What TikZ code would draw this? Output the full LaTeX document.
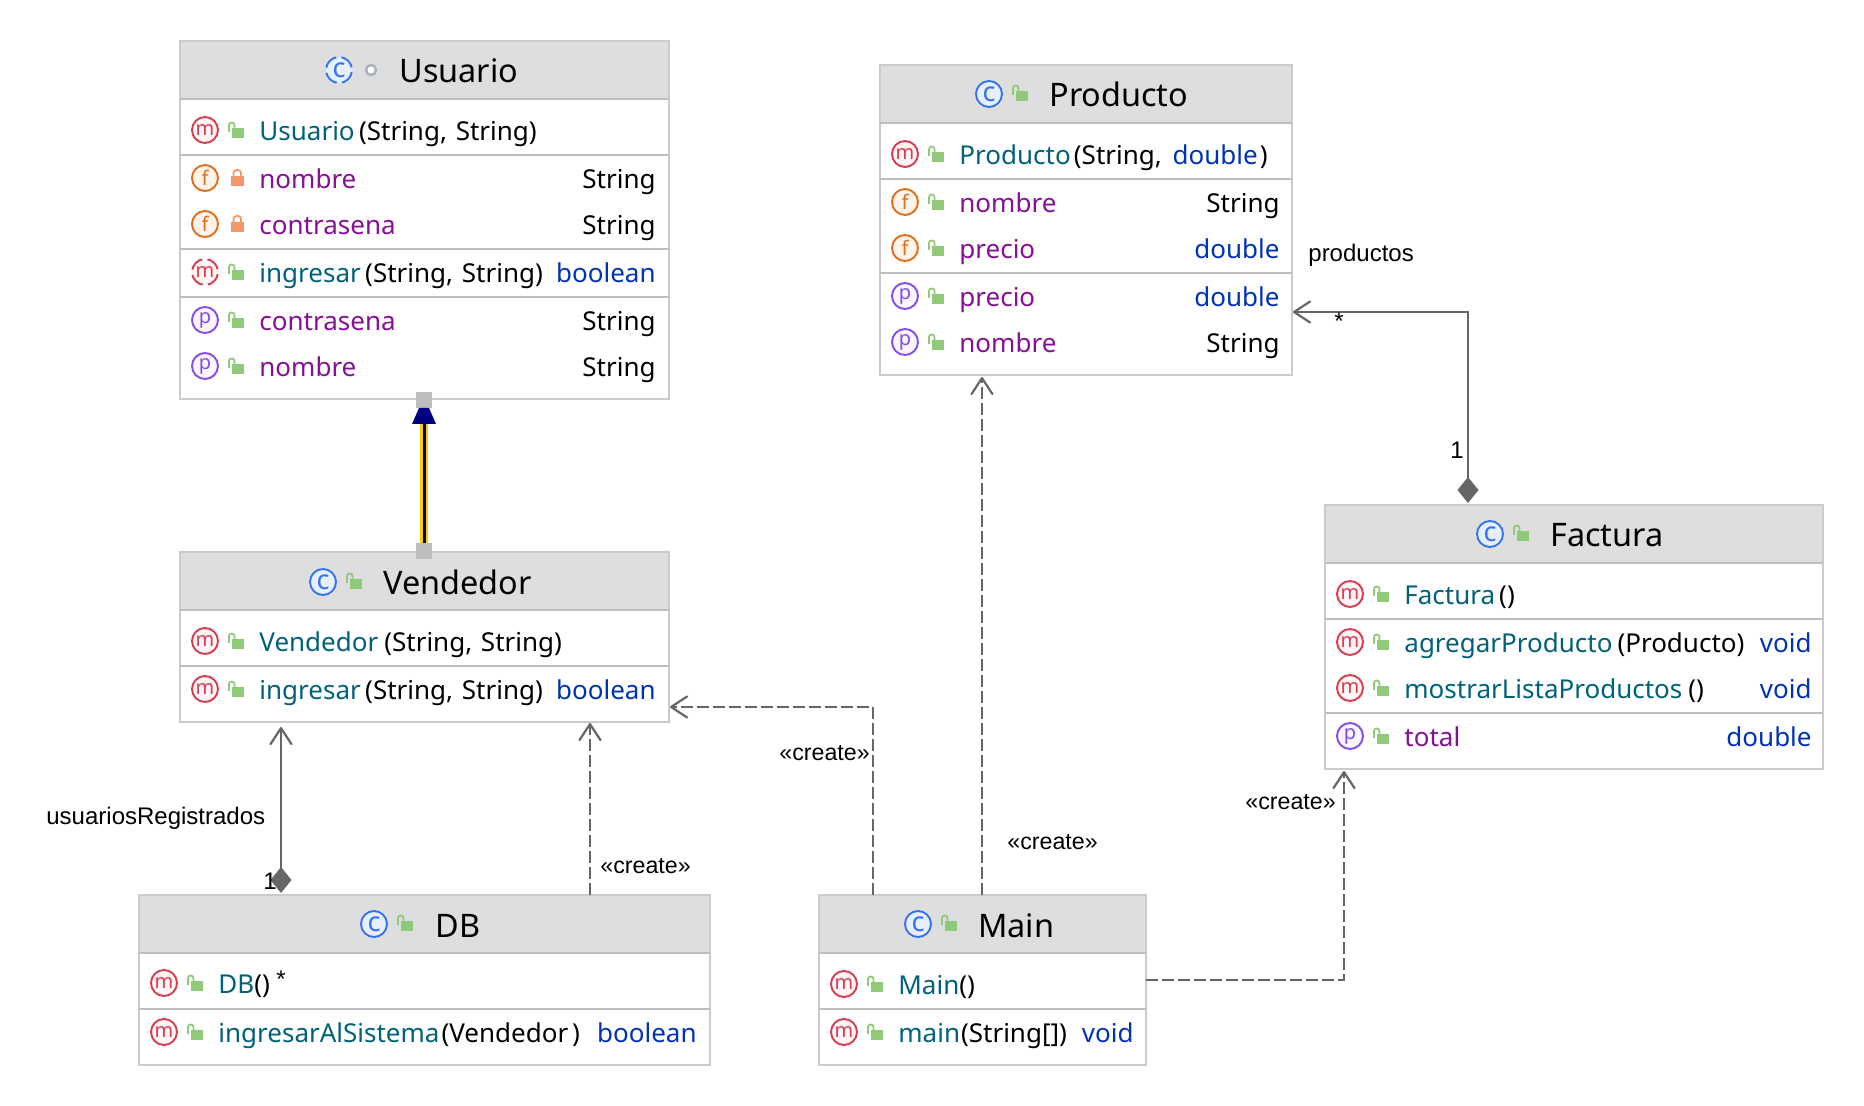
\documentclass[tikz,border=0pt]{standalone}
\usepackage{fontspec}
\setmainfont{Noto Sans}
\newfontfamily\labfont{Liberation Sans}
\usetikzlibrary{arrows.meta,fit,shapes.geometric}
\definecolor{headfill}{HTML}{DEDEDE}
\definecolor{boxline}{HTML}{CBCBCB}
\definecolor{sepline}{HTML}{BEBEBE}
\definecolor{mth}{HTML}{00627A}
\definecolor{fld}{HTML}{871094}
\definecolor{kw}{HTML}{0033B3}
\definecolor{icm}{HTML}{DB3B4B}
\definecolor{icmf}{HTML}{FFF5F6}
\definecolor{icf}{HTML}{E66D17}
\definecolor{icff}{HTML}{FFF4EB}
\definecolor{icp}{HTML}{834DF0}
\definecolor{icpf}{HTML}{FAF5FF}
\definecolor{icc}{HTML}{3574F0}
\definecolor{iccf}{HTML}{E7EFFD}
\definecolor{lockg}{HTML}{91C97B}
\definecolor{locko}{HTML}{F5976A}
\definecolor{dotg}{HTML}{A8B3BC}
\definecolor{conn}{HTML}{666666}
\definecolor{goldl}{HTML}{FFCC00}
\definecolor{navyl}{HTML}{000080}
\definecolor{handle}{HTML}{BDBDBD}
\tikzset{
  classbox/.style={draw=boxline,fill=white,line width=1pt,inner sep=0pt},
  headbox/.style={fill=headfill},
  sepl/.style={draw=sepline,line width=1.1pt},
  rowtext/.style={inner sep=0pt,anchor=base west,font=\fontsize{13}{15}\selectfont},
  rowtype/.style={inner sep=0pt,anchor=base east,font=\fontsize{13}{15}\selectfont},
  titletext/.style={inner sep=0pt,anchor=base west,font=\fontsize{16.2}{18}\selectfont},
  icon/.style={circle,inner sep=0pt,minimum size=13pt,line width=.95pt,font=\fontsize{10}{12}\selectfont},
  iconm/.style={icon,draw=icm,fill=icmf,text=icm},
  iconf/.style={icon,draw=icf,fill=icff,text=icf},
  iconp/.style={icon,draw=icp,fill=icpf,text=icp},
  iconc/.style={icon,draw=icc,fill=iccf,text=icc,font=\fontsize{13.5}{14}\selectfont},
  dashring/.style={dash pattern=on 7.6pt off 2.6pt,dash phase=8.9pt},
  lab/.style={inner sep=0pt,font=\labfont\fontsize{12}{14}\selectfont},
  labc/.style={inner sep=0pt,font=\labfont\fontsize{11.6}{14}\selectfont},
  assoc/.style={draw=conn,line width=1.15pt},
  dep/.style={draw=conn,line width=1.15pt,dash pattern=on 6pt off 2pt},
  barb/.tip={Straight Barb[length=8pt,width=10.5pt,line width=1.1pt,round]},
  comp/.tip={Diamond[length=13pt,width=10.5pt,fill=conn,line width=0pt]},
  handlebox/.style={fill=handle,minimum size=8pt,inner sep=0pt},
  pics/lockopen/.style={code={
    \fill[lockg] (26.5,-3) rectangle (38.5,7);
    \draw[lockg,line width=.9pt,rounded corners=1.3pt] (24,1) -- (24,-8.5) -- (29.5,-8.5) -- (29.5,-3);
  }},
  pics/lockshut/.style={code={
    \fill[locko] (26,-2.5) rectangle (38.5,7);
    \draw[locko,line width=.9pt,rounded corners=1.5pt] (28.5,-2.5) -- (28.5,-9) -- (36,-9) -- (36,-2.5);
  }},
}
% name, x1, y1, x2, y2, header bottom
\newcommand{\classframe}[6]{%
  \coordinate (#1-a) at (#2,#3);
  \coordinate (#1-b) at (#4,#5);
  \node[classbox,fit=(#1-a)(#1-b)] (#1) {};
  \fill[headbox] (#2,#3) rectangle (#4,#6);
  \draw[boxline,line width=1pt] (#2,#3) rectangle (#4,#5);
  \draw[sepl] (#2,#6) -- (#4,#6);
}
% name, c-icon x, lock x-origin, y, text x, title
\newcommand{\classhead}[6]{%
  \node[iconc] (#1-c) at (#2,#4) {c};
  \pic at (#3,#4) {lockopen};
  \node[titletext] (#1-t) at (#5,#4+13) {#6};
}
% name, kind, lock, icon x, y, text, type, right x
\newcommand{\memberrow}[8]{%
  \node[icon#2] (#1-i) at (#4,#5-1) {#2};
  \pic at (#4,#5) {lock#3};
  \node[rowtext] (#1-n) at (#4+54,#5+9.5) {#6};
  \node[rowtype] (#1-ty) at (#8+1,#5+9.5) {#7};
}
\newcommand{\Mth}[2][2.2pt]{\textcolor{mth}{#2}\hspace{#1}}
\newcommand{\Fld}[1]{\textcolor{fld}{#1}}
\newcommand{\Kw}[1]{\textcolor{kw}{#1}}
\newcommand{\TwoStr}{(String,\hspace{1pt} String)}
\begin{document}
\begin{tikzpicture}[x=0.5pt,y=-0.5pt]
\useasboundingbox (0,0) rectangle (1864,1106);
\fill[white] (0,0) rectangle (1864,1106);

% ---- Usuario
\classframe{usuario}{180}{41}{668.5}{399}{99}
\node[iconc,dashring] (usuario-c) at (339,70) {c};
\node[circle,draw=dotg,fill=white,line width=1.3pt,minimum size=5pt,inner sep=0pt] (usuario-dot) at (371,70) {};
\node[titletext] (usuario-t) at (399,83) {Usuario};
\draw[sepl] (180,155) -- (668.5,155);
\draw[sepl] (180,249) -- (668.5,249);
\draw[sepl] (180,297) -- (668.5,297);
\memberrow{u1}{m}{open}{205}{131}{\Mth{Usuario}\TwoStr}{}{655}
\memberrow{u2}{f}{shut}{205}{179}{\Fld{nombre}}{String}{655}
\memberrow{u3}{f}{shut}{205}{225}{\Fld{contrasena}}{String}{655}
\node[iconm,dashring] (u4-i) at (205,272) {m};
\pic at (205,273) {lockopen};
\node[rowtext] (u4-n) at (259,282.5) {\Mth{ingresar}\TwoStr};
\node[rowtype] (u4-ty) at (656,282.5) {\Kw{boolean}};
\memberrow{u5}{p}{open}{205}{321}{\Fld{contrasena}}{String}{655}
\memberrow{u6}{p}{open}{205}{367}{\Fld{nombre}}{String}{655}

% ---- Vendedor
\classframe{vendedor}{180}{552}{668.5}{722}{610}
\classhead{vendedor}{323}{323}{582}{383}{Vendedor}
\draw[sepl] (180,666) -- (668.5,666);
\memberrow{v1}{m}{open}{205}{642}{\Mth[3pt]{Vendedor}\TwoStr}{}{655}
\memberrow{v2}{m}{open}{205}{690}{\Mth{ingresar}\TwoStr}{\Kw{boolean}}{655}

% ---- DB
\classframe{db}{139}{895}{710}{1065}{953}
\classhead{db}{374}{374}{924}{435}{DB}
\draw[sepl] (139,1009) -- (710,1009);
\memberrow{d1}{m}{open}{164}{984}{\Mth[0pt]{DB}()}{}{696}
\memberrow{d2}{m}{open}{164}{1033}{\Mth[1pt]{ingresarAlSistema}(Vendedor\hspace{2pt})}{\Kw{boolean}}{696}
\node[lab] (d1-star) at (281,979) {*};

% ---- Main
\classframe{main}{818.5}{895}{1145.5}{1065}{953}
\classhead{main}{918}{918}{924}{978}{Main}
\draw[sepl] (818.5,1009) -- (1145.5,1009);
\memberrow{m1}{m}{open}{844}{985}{\Mth[0pt]{Main}()}{}{1133}
\memberrow{m2}{m}{open}{844}{1033}{\Mth[.5pt]{main}(String[])}{\Kw{void}}{1133}

% ---- Producto
\classframe{producto}{880}{65}{1292}{375}{123}
\classhead{producto}{989}{989}{94}{1049}{Producto}
\draw[sepl] (880,179) -- (1292,179);
\draw[sepl] (880,273) -- (1292,273);
\memberrow{p1}{m}{open}{905}{155}{\Mth[1.6pt]{Producto}(String,\hspace{2pt} \Kw{double}\hspace{1pt})}{}{1279}
\memberrow{p2}{f}{open}{905}{203}{\Fld{nombre}}{String}{1279}
\memberrow{p3}{f}{open}{905}{249}{\Fld{precio}}{\Kw{double}}{1279}
\memberrow{p4}{p}{open}{905}{297}{\Fld{precio}}{\Kw{double}}{1279}
\memberrow{p5}{p}{open}{905}{343}{\Fld{nombre}}{String}{1279}

% ---- Factura
\classframe{factura}{1325}{505}{1823}{769}{563}
\classhead{factura}{1490}{1490}{534}{1550}{Factura}
\draw[sepl] (1325,619) -- (1823,619);
\draw[sepl] (1325,713) -- (1823,713);
\memberrow{f1}{m}{open}{1350}{595}{\Mth[2pt]{Factura}()}{}{1811}
\memberrow{f2}{m}{open}{1350}{643}{\Mth[2.5pt]{agregarProducto}(Producto)}{\Kw{void}}{1811}
\memberrow{f3}{m}{open}{1350}{689}{\Mth[3pt]{mostrarListaProductos}()}{\Kw{void}}{1811}
\memberrow{f4}{p}{open}{1350}{737}{\Fld{total}}{\Kw{double}}{1811}

% ---- connector anchors on the class boxes
\coordinate (dbA) at (281,893);
\coordinate (vendA) at (281,727);
\coordinate (dbB) at (590,895);
\coordinate (vendB) at (590,723);
\coordinate (mainA) at (873,895);
\coordinate (vendC) at (670,707);
\coordinate (mainB) at (982,895);
\coordinate (prodA) at (982,377);
\coordinate (mainC) at (1146,980);
\coordinate (factA) at (1344,771);
\coordinate (factB) at (1468,503);
\coordinate (prodB) at (1293,312);

% ---- connectors
\draw[assoc,{comp}-{barb}] (dbA) -- (vendA);
\draw[dep,-{barb}] (dbB) -- (vendB);
\draw[dep,-{barb}] (mainA) |- (vendC);
\draw[dep,-{barb}] (mainB) -- (prodA);
\draw[dep,-{barb}] (mainC) -| (factA);
\draw[assoc,{comp}-{barb}] (factB) |- (prodB);

% ---- inheritance
\node[handlebox] (hTop) at (424,400) {};
\node[handlebox] (hBot) at (424,551) {};
\draw[goldl,line width=3.6pt] (hBot.north) -- (hTop.south);
\draw[navyl,line width=1.5pt] (hBot.north) -- (hTop.south);
\fill[navyl] (412,424) -- (436,424) -- (429,408) -- (419,408) -- cycle;

% ---- labels
\node[lab,anchor=base west] (lUR) at (46,824.5) {usuariosRegistrados};
\node[lab,anchor=base] (l1a) at (270,889) {1};
\node[labc,anchor=base west] (lc1) at (600,873) {«create»};
\node[labc,anchor=base west] (lc2) at (779,761) {«create»};
\node[labc,anchor=base west] (lc3) at (1007,849) {«create»};
\node[labc,anchor=base west] (lc4) at (1245,809) {«create»};
\node[lab,anchor=base west] (lprod) at (1308,262) {productos};
\node[lab] (lstar) at (1339,321) {*};
\node[lab,anchor=base] (l1b) at (1457,459) {1};
\end{tikzpicture}
\end{document}
